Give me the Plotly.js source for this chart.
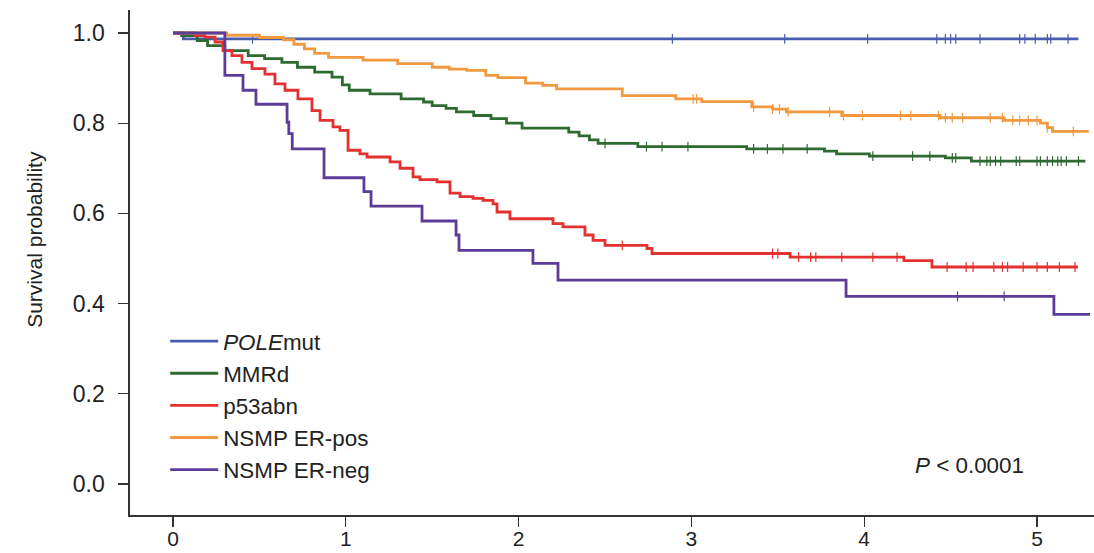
<!DOCTYPE html>
<html>
<head>
<meta charset="utf-8">
<script src="https://cdn.plot.ly/plotly-3.0.1.min.js"></script>
<style>
  html, body { margin: 0; padding: 0; background: #ffffff; }
  #chart { width: 1094px; height: 553px; }
</style>
</head>
<body>
<div id="chart"></div>
<script>
// Kaplan-Meier survival by molecular subgroup (years of follow-up)
const groupNames = ['<i>POLE</i>mut', 'MMRd', 'p53abn', 'NSMP ER-pos', 'NSMP ER-neg'];
const groupColors = ['#4a5cae', '#2f6a30', '#e2312e', '#f0993f', '#5b3d98'];

const poleTimes = [0, 0.06, 5.24];
const poleSurv  = [1.0, 0.987, 0.987];
const poleCensor = [0.46, 2.89, 3.54, 4.02, 4.42, 4.47, 4.50, 4.53, 4.67, 4.90, 4.93, 4.99, 5.06, 5.08, 5.18];

const mmrdTimes = [0, 0.05, 0.14, 0.20, 0.30, 0.435, 0.53, 0.63, 0.72, 0.82, 0.92, 0.98, 1.02, 1.14, 1.32, 1.45, 1.50, 1.58, 1.64, 1.74, 1.84, 1.93, 2.02, 2.29, 2.35, 2.41, 2.46, 2.69, 3.32, 3.77, 3.84, 4.03, 4.47, 4.62, 5.28];
const mmrdSurv  = [1.0, 0.994, 0.983, 0.972, 0.961, 0.95, 0.943, 0.935, 0.924, 0.913, 0.902, 0.885, 0.873, 0.865, 0.854, 0.847, 0.839, 0.833, 0.825, 0.817, 0.81, 0.80, 0.789, 0.78, 0.772, 0.763, 0.755, 0.748, 0.743, 0.738, 0.732, 0.727, 0.723, 0.716, 0.716];
const mmrdCensor = [2.50, 2.74, 2.83, 2.98, 3.36, 3.44, 3.53, 3.67, 4.05, 4.28, 4.38, 4.51, 4.53, 4.67, 4.71, 4.73, 4.76, 4.79, 4.88, 4.90, 5.00, 5.02, 5.06, 5.09, 5.12, 5.14, 5.17, 5.24];

const p53Times = [0, 0.127, 0.185, 0.243, 0.289, 0.341, 0.399, 0.457, 0.532, 0.59, 0.648, 0.723, 0.804, 0.851, 0.926, 0.966, 1.013, 1.082, 1.123, 1.256, 1.314, 1.389, 1.429, 1.528, 1.603, 1.661, 1.736, 1.794, 1.852, 1.875, 1.95, 2.199, 2.257, 2.384, 2.431, 2.50, 2.743, 2.772, 3.571, 4.23, 4.392, 5.237];
const p53Surv  = [1.0, 0.994, 0.991, 0.98, 0.961, 0.95, 0.935, 0.921, 0.909, 0.887, 0.873, 0.854, 0.828, 0.806, 0.792, 0.784, 0.74, 0.732, 0.725, 0.714, 0.70, 0.681, 0.675, 0.67, 0.645, 0.637, 0.633, 0.629, 0.621, 0.603, 0.588, 0.577, 0.57, 0.552, 0.54, 0.529, 0.522, 0.511, 0.503, 0.495, 0.481, 0.481];
const p53Censor = [2.60, 3.47, 3.50, 3.62, 3.69, 3.72, 3.87, 4.05, 4.19, 4.48, 4.59, 4.63, 4.75, 4.80, 4.83, 4.92, 5.00, 5.06, 5.13, 5.22];

const erPosTimes = [0, 0.31, 0.5, 0.64, 0.70, 0.76, 0.82, 0.90, 1.1, 1.3, 1.5, 1.6, 1.7, 1.81, 1.88, 2.04, 2.14, 2.22, 2.60, 2.91, 3.06, 3.35, 3.47, 3.55, 3.87, 4.44, 4.81, 5.02, 5.06, 5.09, 5.30];
const erPosSurv  = [1.0, 0.995, 0.99, 0.985, 0.975, 0.965, 0.955, 0.946, 0.94, 0.932, 0.924, 0.92, 0.917, 0.906, 0.901, 0.889, 0.884, 0.876, 0.861, 0.854, 0.848, 0.836, 0.831, 0.825, 0.817, 0.812, 0.806, 0.80, 0.79, 0.782, 0.782];
const erPosCensor = [3.01, 3.03, 3.36, 3.47, 3.51, 3.56, 3.80, 3.88, 3.99, 4.21, 4.27, 4.43, 4.47, 4.51, 4.57, 4.73, 4.80, 4.86, 4.90, 4.95, 5.00, 5.06, 5.21];

const erNegTimes = [0, 0.30, 0.405, 0.48, 0.66, 0.67, 0.69, 0.874, 1.105, 1.146, 1.441, 1.638, 1.655, 2.083, 2.228, 3.895, 5.098, 5.307];
const erNegSurv  = [1.0, 0.906, 0.873, 0.842, 0.802, 0.777, 0.743, 0.679, 0.648, 0.616, 0.583, 0.552, 0.518, 0.489, 0.452, 0.416, 0.376, 0.376];
const erNegCensor = [4.54, 4.81];

const xTickVals = [0, 1, 2, 3, 4, 5];
const yTickVals = [0, 0.2, 0.4, 0.6, 0.8, 1.0];
const yTickText = ['0.0', '0.2', '0.4', '0.6', '0.8', '1.0'];
const yTitle = 'Survival probability';
const pLabel = '<i>P</i> < 0.0001';

const groups = [
  [poleTimes, poleSurv, poleCensor],
  [mmrdTimes, mmrdSurv, mmrdCensor],
  [p53Times, p53Surv, p53Censor],
  [erPosTimes, erPosSurv, erPosCensor],
  [erNegTimes, erNegSurv, erNegCensor]
];

// survival value of a step curve at time t
function stepAt(times, surv, t) {
  let v = surv[0];
  for (let i = 0; i < times.length; i++) {
    if (times[i] <= t) v = surv[i]; else break;
  }
  return v;
}

const FONT = 'Liberation Sans, Arial, Helvetica, sans-serif';
const INK = '#222222';
const traces = [];
groups.forEach((g, i) => {
  traces.push({
    type: 'scatter', mode: 'lines',
    x: g[0], y: g[1],
    name: groupNames[i],
    line: { color: groupColors[i], width: 2.8, shape: 'hv' },
    legendrank: i + 1,
    hoverinfo: 'skip'
  });
  traces.push({
    type: 'scatter', mode: 'markers',
    x: g[2], y: g[2].map(t => stepAt(g[0], g[1], t)),
    showlegend: false,
    marker: { symbol: 'line-ns', size: 7, line: { color: groupColors[i], width: 1.2 } },
    hoverinfo: 'skip'
  });
});

const layout = {
  width: 1094, height: 553,
  margin: { l: 130, r: 0, t: 10, b: 38 },
  paper_bgcolor: '#ffffff', plot_bgcolor: '#ffffff',
  font: { family: FONT, color: INK, size: 22 },
  showlegend: true,
  legend: {
    x: 0.0365, xanchor: 'left', y: 0.386, yanchor: 'top',
    bgcolor: 'rgba(0,0,0,0)', borderwidth: 0,
    font: { family: FONT, size: 22.4, color: INK },
    itemwidth: 48, tracegroupgap: 0, traceorder: 'normal'
  },
  xaxis: {
    range: [-0.249, 5.33],
    tickvals: xTickVals,
    ticks: 'outside', ticklen: 10, tickwidth: 1.3, tickcolor: '#333333',
    showline: true, linecolor: '#333333', linewidth: 1.6,
    showgrid: false, zeroline: false,
    tickfont: { family: FONT, size: 21, color: INK },
    ticklabelstandoff: -6,
    fixedrange: true
  },
  yaxis: {
    range: [-0.069, 1.051],
    tickvals: yTickVals, ticktext: yTickText,
    ticks: 'outside', ticklen: 10, tickwidth: 1.3, tickcolor: '#333333',
    showline: true, linecolor: '#333333', linewidth: 1.6,
    showgrid: false, zeroline: false,
    tickfont: { family: FONT, size: 23, color: INK },
    ticklabelstandoff: 9,
    fixedrange: true
  },
  annotations: [
    {
      x: 4.28, y: 0.04, xref: 'x', yref: 'y',
      xanchor: 'left', yanchor: 'middle',
      text: pLabel, showarrow: false,
      font: { family: FONT, size: 22.4, color: INK }
    },
    {
      x: -0.0985, y: 0.545, xref: 'paper', yref: 'paper',
      xanchor: 'center', yanchor: 'middle', textangle: -90,
      text: yTitle, showarrow: false,
      font: { family: FONT, size: 21, color: INK }
    }
  ]
};

Plotly.newPlot('chart', traces, layout, { displayModeBar: false, staticPlot: true });
</script>
</body>
</html>
